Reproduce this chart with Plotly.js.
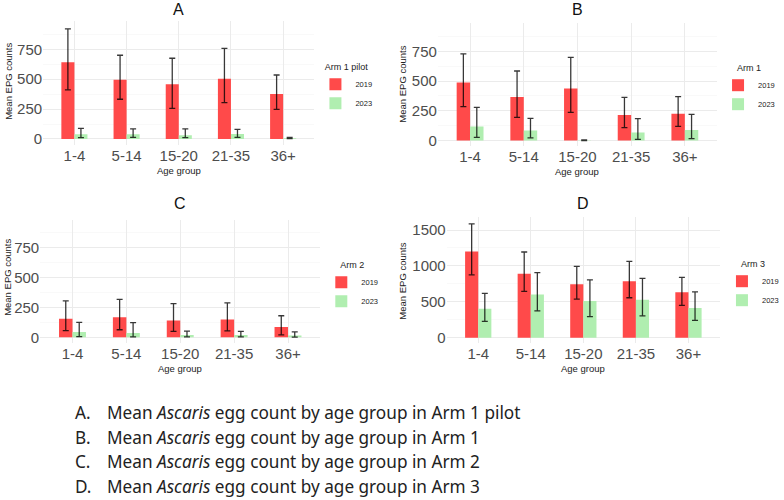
<!DOCTYPE html>
<html>
<head>
<meta charset="utf-8">
<script src="https://cdn.plot.ly/plotly-3.0.1.min.js"></script>
<style>
  html, body { margin: 0; padding: 0; background: #fff; }
  #chart { width: 784px; height: 500px; }
</style>
</head>
<body>
<div id="chart"></div>
<script>
// Age groups shared by all four panels
const ageGroups = ['1-4', '5-14', '15-20', '21-35', '36+'];
const years = ['2019', '2023'];

// Panel A: Arm 1 pilot (mean EPG with lower / upper error limits)
const pilot2019 = [641, 496, 457, 504, 376];
const pilot2019Hi = [920, 700, 675, 758, 535];
const pilot2019Lo = [410, 332, 255, 304, 248];
const pilot2023 = [40, 40, 30, 42, 6];
const pilot2023Hi = [88, 85, 84, 81, 14];
const pilot2023Lo = [12, 14, 12, 14, 2];

// Panel B: Arm 1
const arm1_2019 = [487, 366, 438, 214, 225];
const arm1_2019Hi = [728, 584, 698, 362, 369];
const arm1_2019Lo = [284, 195, 237, 108, 118];
const arm1_2023 = [118, 83, 2, 68, 88];
const arm1_2023Hi = [279, 186, 5, 183, 220];
const arm1_2023Lo = [27, 22, 0, 10, 16];

// Panel C: Arm 2
const arm2_2019 = [154, 168, 141, 148, 85];
const arm2_2019Hi = [305, 318, 282, 288, 180];
const arm2_2019Lo = [55, 63, 50, 53, 20];
const arm2_2023 = [45, 35, 20, 18, 15];
const arm2_2023Hi = [125, 122, 52, 50, 45];
const arm2_2023Lo = [5, 4, 3, 3, 2];

// Panel D: Arm 3
const arm3_2019 = [1200, 892, 746, 787, 632];
const arm3_2019Hi = [1585, 1194, 992, 1062, 840];
const arm3_2019Lo = [875, 645, 537, 556, 450];
const arm3_2023 = [402, 602, 510, 527, 412];
const arm3_2023Hi = [618, 906, 804, 826, 638];
const arm3_2023Lo = [228, 374, 294, 304, 240];

// Panel letters, legend titles and figure captions
const panelLetters = ['A', 'B', 'C', 'D'];
const armNames = ['Arm 1 pilot', 'Arm 1', 'Arm 2', 'Arm 3'];
const captions = [
  'Mean <i>Ascaris</i> egg count by age group in Arm 1 pilot',
  'Mean <i>Ascaris</i> egg count by age group in Arm 1',
  'Mean <i>Ascaris</i> egg count by age group in Arm 2',
  'Mean <i>Ascaris</i> egg count by age group in Arm 3'
];

const W = 784, H = 500;
const fx = p => p / W;
const fy = p => 1 - p / H;

const RED = 'rgb(255,74,74)';
const GREEN = 'rgb(176,238,176)';
const TXT = '#4D4D4D';
const FONT = 'Liberation Sans, Arial, sans-serif';

// Plot boxes in pixels (left, right, top, bottom), y range, tick steps,
// legend corner and y-title centre
const panels = [
  { s: '',  l: 44,  r: 321, t: 21.2,  b: 144.7, range: [-48, 985], dtick: 250, minor: 125,
    data: [pilot2019, pilot2019Hi, pilot2019Lo, pilot2023, pilot2023Hi, pilot2023Lo],
    leg: [322, 58], yt: [8, 81] },
  { s: '2', l: 447, r: 732, t: 23.3,  b: 146.2, range: [-48, 985], dtick: 250, minor: 125,
    data: [arm1_2019, arm1_2019Hi, arm1_2019Lo, arm1_2023, arm1_2023Hi, arm1_2023Lo],
    leg: [733, 59], yt: [410, 84] },
  { s: '3', l: 41,  r: 327, t: 219.6, b: 343.0, range: [-48, 985], dtick: 250, minor: 125,
    data: [arm2_2019, arm2_2019Hi, arm2_2019Lo, arm2_2023, arm2_2023Hi, arm2_2023Lo],
    leg: [328, 256], yt: [7, 277] },
  { s: '4', l: 456, r: 735, t: 217.1, b: 343.4, range: [-80, 1680], dtick: 500, minor: 250,
    data: [arm3_2019, arm3_2019Hi, arm3_2019Lo, arm3_2023, arm3_2023Hi, arm3_2023Lo],
    leg: [737, 255], yt: [410, 281] }
];

function errorBars(mean, hi, lo) {
  return {
    type: 'data', symmetric: false,
    array: hi.map((h, i) => h - mean[i]),
    arrayminus: mean.map((m, i) => m - lo[i]),
    color: 'rgba(0,0,0,0.78)', thickness: 1.3, width: 3
  };
}

const traces = [];
const layout = {
  width: W, height: H,
  margin: { l: 0, r: 0, t: 0, b: 0 },
  paper_bgcolor: '#fff', plot_bgcolor: '#fff',
  font: { family: FONT, color: TXT },
  barmode: 'group', bargap: 0.5, bargroupgap: 0,
  annotations: []
};

panels.forEach((p, k) => {
  const xa = 'x' + p.s, ya = 'y' + p.s;
  const legName = k === 0 ? 'legend' : 'legend' + (k + 1);
  const [m19, hi19, lo19, m23, hi23, lo23] = p.data;

  traces.push({
    type: 'bar', x: ageGroups, y: m19, name: years[0], xaxis: xa, yaxis: ya, legend: legName,
    marker: { color: RED, line: { width: 0 } }, error_y: errorBars(m19, hi19, lo19)
  });
  traces.push({
    type: 'bar', x: ageGroups, y: m23, name: years[1], xaxis: xa, yaxis: ya, legend: legName,
    marker: { color: GREEN, line: { width: 0 } }, error_y: errorBars(m23, hi23, lo23)
  });

  layout['xaxis' + p.s] = {
    domain: [fx(p.l), fx(p.r)], anchor: ya,
    type: 'category', range: [-0.6, 4.6],
    showgrid: true, gridcolor: '#EBEBEB', gridwidth: 1,
    zeroline: false, showline: false, ticks: '',
    tickfont: { size: 15, color: TXT, family: FONT },
    automargin: false, fixedrange: true
  };
  layout['yaxis' + p.s] = {
    domain: [fy(p.b), fy(p.t)], anchor: xa,
    range: p.range, dtick: p.dtick, tick0: 0,
    showgrid: true, gridcolor: '#EBEBEB', gridwidth: 1,
    minor: { dtick: p.minor, tick0: 0, showgrid: true, gridcolor: '#F5F5F5', gridwidth: 0.6, ticks: '' },
    zeroline: false, showline: false, ticks: '',
    tickfont: { size: 15, color: TXT, family: FONT },
    automargin: false, fixedrange: true
  };

  layout[legName] = {
    x: fx(p.leg[0]), y: fy(p.leg[1]), xanchor: 'left', yanchor: 'top',
    xref: 'paper', yref: 'paper',
    bgcolor: 'rgba(0,0,0,0)', borderwidth: 0,
    title: { text: armNames[k], side: 'top center', font: { size: 9, color: '#222', family: FONT } },
    font: { size: 7.5, color: '#222', family: FONT },
    traceorder: 'normal', tracegroupgap: 0
  };

  const cx = (p.l + p.r) / 2;
  // panel letter above each plot
  layout.annotations.push({
    text: panelLetters[k], xref: 'paper', yref: 'paper',
    x: fx(cx), y: fy(k < 2 ? 0 : 194), xanchor: 'center', yanchor: 'top', borderpad: 0,
    showarrow: false, font: { size: 16, color: '#111', family: FONT }
  });
  // y-axis title
  layout.annotations.push({
    text: 'Mean EPG counts', xref: 'paper', yref: 'paper', textangle: -90,
    x: fx(p.yt[0]), y: fy(p.yt[1]), xanchor: 'center', yanchor: 'middle', borderpad: 0,
    showarrow: false, font: { size: 9.5, color: '#222', family: FONT }
  });
  // x-axis title
  layout.annotations.push({
    text: 'Age group', xref: 'paper', yref: 'paper',
    x: fx(cx), y: fy(p.b + 25.5), xanchor: 'center', yanchor: 'middle',
    showarrow: false, font: { size: 9.5, color: '#222', family: FONT }
  });
});

// Figure legend lines below the panels
const capY = [412, 437, 461, 486];
captions.forEach((c, i) => {
  layout.annotations.push({
    text: panelLetters[i] + '.', xref: 'paper', yref: 'paper',
    x: fx(75), y: fy(capY[i]), xanchor: 'left', yanchor: 'middle',
    showarrow: false, font: { size: 17.2, color: '#222', family: 'Noto Sans, sans-serif' }
  });
  layout.annotations.push({
    text: c, xref: 'paper', yref: 'paper',
    x: fx(107), y: fy(capY[i]), xanchor: 'left', yanchor: 'middle',
    showarrow: false, font: { size: 17.2, color: '#222', family: 'Noto Sans, sans-serif' }
  });
});

Plotly.newPlot('chart', traces, layout, { staticPlot: true, displayModeBar: false });
</script>
</body>
</html>
